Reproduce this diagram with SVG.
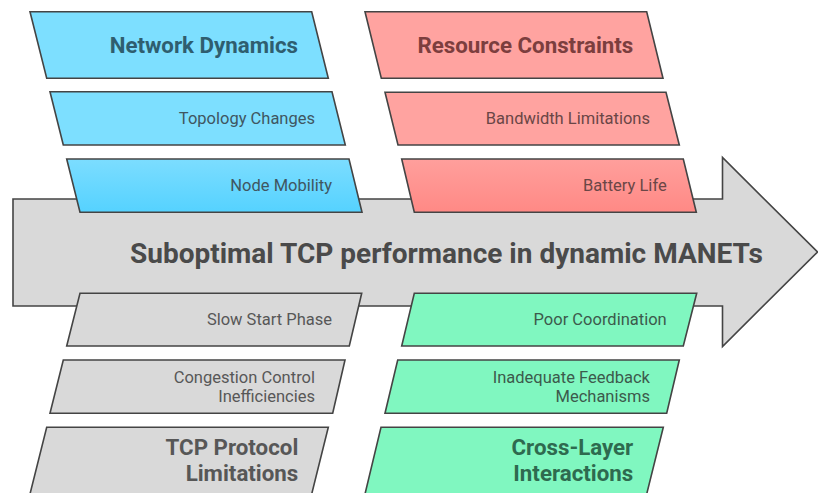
<svg xmlns="http://www.w3.org/2000/svg" width="818" height="493" viewBox="0 0 818 493">
<defs>
<linearGradient id="gBlue" x1="0" y1="0" x2="0" y2="1"><stop offset="0" stop-color="#7CDDFF"/><stop offset="1" stop-color="#55D2FF"/></linearGradient>
<linearGradient id="gRed" x1="0" y1="0" x2="0" y2="1"><stop offset="0" stop-color="#FF9F9C"/><stop offset="1" stop-color="#FF8985"/></linearGradient>
</defs>
<style>
.s{stroke:#444;stroke-width:1.6;stroke-linejoin:miter}
.blue{fill:#7DDFFF}
.red{fill:#FFA3A0}
.green{fill:#80F7C0}
.gray{fill:#D9D9D9}
text{font-family:Roboto,"Liberation Sans",sans-serif;text-anchor:end}
.h{font-size:22.3px;font-weight:bold}
.t{font-size:16.5px}
.tb{fill:#2F5E6F}
.tbr{fill:#3F5661}
.tr{fill:#7C3E3E}
.trr{fill:#6A4646}
.tg{fill:#2E6A4F}
.tgr{fill:#3C5A4C}
.tk{fill:#575757}
.main{font-size:28px;font-weight:bold;fill:#4A4A4A;text-anchor:middle}
</style>
<g id="connectors">
<polygon id="spine" class="s gray" points="13,199 722.5,199 722.5,157.5 817.5,252 722.5,346.5 722.5,306 13,306"/>
</g>
<g id="main">
<text class="main" x="446.5" y="262.5">Suboptimal TCP performance in dynamic MANETs</text>
</g>
<g id="network-dynamics">
<polygon class="s blue" points="30,11.7 311.7,11.7 328.3,78.3 46.7,78.3"/>
<text class="h tb" x="298" y="52.5">Network Dynamics</text>
</g>
<g id="topology-changes">
<polygon class="s blue" points="50,91.7 332,91.7 345.3,145 63.3,145"/>
<text class="t tbr" x="315" y="124">Topology Changes</text>
</g>
<g id="node-mobility">
<polygon class="s" fill="url(#gBlue)" points="66.7,159 349,159 362,212.3 80,212.3"/>
<text class="t tbr" x="332" y="191">Node Mobility</text>
</g>
<g id="resource-constraints">
<polygon class="s red" points="365,11.7 646.7,11.7 663,78.3 381.3,78.3"/>
<text class="h tr" x="633.3" y="52.5">Resource Constraints</text>
</g>
<g id="bandwidth-limitations">
<polygon class="s red" points="385,92.3 666,92.3 679.3,145 398,145"/>
<text class="t trr" x="650" y="124">Bandwidth Limitations</text>
</g>
<g id="battery-life">
<polygon class="s" fill="url(#gRed)" points="401.7,159 683.3,159 696.3,212.3 414.3,212.3"/>
<text class="t trr" x="666.7" y="191">Battery Life</text>
</g>
<g id="slow-start-phase">
<polygon class="s gray" points="80,293.3 361.7,293.3 349.3,346 66.7,346"/>
<text class="t tk" x="332" y="325">Slow Start Phase</text>
</g>
<g id="congestion-control">
<polygon class="s gray" points="63.3,360 345,360 332.7,413.3 50,413.3"/>
<text class="t tk" x="315" y="382.7">Congestion Control</text>
<text class="t tk" x="315" y="402.3">Inefficiencies</text>
</g>
<g id="tcp-protocol-limitations">
<polygon class="s gray" points="46.7,427.3 328.3,427.3 311.7,494 30,494"/>
<text class="h tk" x="298.3" y="455">TCP Protocol</text>
<text class="h tk" x="298.3" y="481">Limitations</text>
</g>
<g id="poor-coordination">
<polygon class="s green" points="414.3,293.3 696.7,293.3 683.3,346 401.7,346"/>
<text class="t tgr" x="666.7" y="325">Poor Coordination</text>
</g>
<g id="inadequate-feedback">
<polygon class="s green" points="397.7,360 679.3,360 666.7,413.3 385,413.3"/>
<text class="t tgr" x="650" y="382.7">Inadequate Feedback</text>
<text class="t tgr" x="650" y="402.3">Mechanisms</text>
</g>
<g id="cross-layer-interactions">
<polygon class="s green" points="381,427.3 663.3,427.3 646.7,494 365,494"/>
<text class="h tg" x="633.3" y="455">Cross-Layer</text>
<text class="h tg" x="633.3" y="481">Interactions</text>
</g>
</svg>
